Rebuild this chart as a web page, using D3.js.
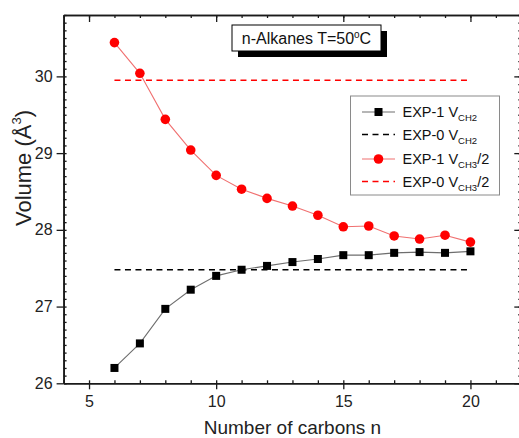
<!DOCTYPE html>
<html>
<head>
<meta charset="utf-8">
<script src="https://cdn.jsdelivr.net/npm/d3@7/dist/d3.min.js"></script>
<style>
  html, body { margin: 0; padding: 0; background: #fff; }
  svg { display: block; font-family: "Liberation Sans", Arial, sans-serif; }
</style>
</head>
<body>
<svg id="chart" width="519" height="438"></svg>
<script>
// Carbon number of each n-alkane
const carbons = [6, 7, 8, 9, 10, 11, 12, 13, 14, 15, 16, 17, 18, 19, 20];
// EXP-1 volume per CH2 group (Å^3)
const vCH2Exp1 = [26.20, 26.52, 26.97, 27.22, 27.40, 27.48, 27.53, 27.58, 27.62, 27.67, 27.67, 27.70, 27.71, 27.70, 27.72];
// EXP-1 half volume of the CH3 group (Å^3)
const vCH3Exp1 = [30.44, 30.04, 29.44, 29.04, 28.71, 28.53, 28.41, 28.31, 28.19, 28.04, 28.05, 27.92, 27.88, 27.93, 27.84];
// EXP-0 constant reference values (Å^3)
const vCH2Exp0 = 27.48;
const vCH3Exp0 = 29.95;
const refRange = [6, 20];
// Axis ticks
const xTicks = [5, 10, 15, 20];
const yTicks = [26, 27, 28, 29, 30];

const svg = d3.select("#chart");

const x = d3.scaleLinear().domain([4, 22]).range([63.6, 521.3]);
const y = d3.scaleLinear().domain([26, 30.8]).range([383.3, 15]);

const xMinor = d3.range(4, 22.01, 1);
const yMinor = d3.range(26, 30.801, 0.1).map(v => +v.toFixed(1));

const axisColor = "#1a1a1a";

function styleAxis(g) {
  g.select(".domain").attr("stroke", axisColor).attr("stroke-width", 1.6);
  g.selectAll(".tick line").attr("stroke", axisColor).attr("stroke-width", 1.3);
  g.selectAll(".tick text").attr("fill", "#222").attr("font-size", 16)
    .attr("font-family", "Liberation Sans, Arial, sans-serif");
}

// Bottom axis: majors outward, minors inward
svg.append("g").attr("transform", `translate(0,${y(26)})`)
  .call(d3.axisBottom(x).tickValues(xMinor).tickSize(-3).tickSizeOuter(0).tickFormat(""))
  .call(styleAxis);
svg.append("g").attr("transform", `translate(0,${y(26)})`)
  .call(d3.axisBottom(x).tickValues(xTicks).tickSize(6).tickSizeOuter(0).tickPadding(6).tickFormat(d3.format("d")))
  .call(styleAxis);

// Left axis
svg.append("g").attr("transform", `translate(${x(4)},0)`)
  .call(d3.axisLeft(y).tickValues(yMinor).tickSize(-3).tickSizeOuter(0).tickFormat(""))
  .call(styleAxis);
svg.append("g").attr("transform", `translate(${x(4)},0)`)
  .call(d3.axisLeft(y).tickValues(yTicks).tickSize(7).tickSizeOuter(0).tickPadding(4).tickFormat(d3.format("d")))
  .call(styleAxis);

// Top mirror axis, ticks inward
svg.append("g").attr("transform", `translate(0,${y(30.8)})`)
  .call(d3.axisTop(x).tickValues(xMinor).tickSize(-3).tickSizeOuter(0).tickFormat(""))
  .call(styleAxis);
svg.append("g").attr("transform", `translate(0,${y(30.8)})`)
  .call(d3.axisTop(x).tickValues(xTicks).tickSize(-7).tickSizeOuter(0).tickFormat(""))
  .call(styleAxis);

// Right mirror axis, ticks inward
svg.append("g").attr("transform", `translate(${x(22)},0)`)
  .call(d3.axisRight(y).tickValues(yMinor).tickSize(-3).tickSizeOuter(0).tickFormat(""))
  .call(styleAxis);
svg.append("g").attr("transform", `translate(${x(22)},0)`)
  .call(d3.axisRight(y).tickValues(yTicks).tickSize(-7).tickSizeOuter(0).tickFormat(""))
  .call(styleAxis);

// Axis titles
svg.append("text")
  .attr("x", (x(4) + x(22)) / 2).attr("y", 434)
  .attr("text-anchor", "middle").attr("font-size", 19).attr("fill", "#222")
  .text("Number of carbons n");

const yTitle = svg.append("text")
  .attr("transform", "translate(31,168) rotate(-90)")
  .attr("text-anchor", "middle").attr("font-size", 22).attr("fill", "#222");
yTitle.append("tspan").text("Volume (Å");
yTitle.append("tspan").attr("font-size", 13).attr("dy", -10).text("3");
yTitle.append("tspan").attr("dy", 10).text(")");

// Reference dashed lines
const refData = [
  { value: vCH2Exp0, color: "#000000" },
  { value: vCH3Exp0, color: "#ff0000" }
];
refData.forEach(r => {
  svg.append("line")
    .attr("x1", x(refRange[0])).attr("x2", x(refRange[1]))
    .attr("y1", y(r.value)).attr("y2", y(r.value))
    .attr("stroke", r.color).attr("stroke-width", 1.6)
    .attr("stroke-dasharray", "6,4.5");
});

const pts = (vals) => carbons.map((c, i) => [c, vals[i]]);
const line = d3.line().x(d => x(d[0])).y(d => y(d[1]));

// EXP-1 CH2 series
svg.append("path").datum(pts(vCH2Exp1)).attr("d", line)
  .attr("fill", "none").attr("stroke", "#6e6e6e").attr("stroke-width", 1.1);
svg.selectAll(".sq").data(pts(vCH2Exp1)).enter().append("rect")
  .attr("x", d => x(d[0]) - 4).attr("y", d => y(d[1]) - 4)
  .attr("width", 8).attr("height", 8).attr("fill", "#000");

// EXP-1 CH3/2 series
svg.append("path").datum(pts(vCH3Exp1)).attr("d", line)
  .attr("fill", "none").attr("stroke", "#f07070").attr("stroke-width", 1.1);
svg.selectAll(".ci").data(pts(vCH3Exp1)).enter().append("circle")
  .attr("cx", d => x(d[0])).attr("cy", d => y(d[1])).attr("r", 4.8)
  .attr("fill", "#ff0000");

// Title box with drop shadow
const tb = { x: 232, y: 25, w: 149, h: 26 };
svg.append("rect").attr("x", tb.x + 6).attr("y", tb.y + 6).attr("width", tb.w).attr("height", tb.h).attr("fill", "#000");
svg.append("rect").attr("x", tb.x).attr("y", tb.y).attr("width", tb.w).attr("height", tb.h)
  .attr("fill", "#fff").attr("stroke", "#000").attr("stroke-width", 1);
const title = svg.append("text").attr("x", tb.x + tb.w / 2).attr("y", tb.y + 19)
  .attr("text-anchor", "middle").attr("font-size", 16).attr("fill", "#111");
title.append("tspan").text("n-Alkanes T=50");
title.append("tspan").attr("font-size", 10).attr("dy", -6).text("o");
title.append("tspan").attr("dy", 6).text("C");

// Legend
const lg = { x: 350.5, y: 96, w: 149, h: 99 };
svg.append("rect").attr("x", lg.x).attr("y", lg.y).attr("width", lg.w).attr("height", lg.h)
  .attr("fill", "#fff").attr("stroke", "#8a8a8a").attr("stroke-width", 1);

const legendItems = [
  { label: "EXP-1 V", sub: "CH2", tail: "", color: "#6e6e6e", marker: "square", dash: null, yc: 112 },
  { label: "EXP-0 V", sub: "CH2", tail: "", color: "#000000", marker: null, dash: "6,4.5", yc: 134.5 },
  { label: "EXP-1 V", sub: "CH3", tail: "/2", color: "#f07070", marker: "circle", dash: null, yc: 159 },
  { label: "EXP-0 V", sub: "CH3", tail: "/2", color: "#ff0000", marker: null, dash: "6,4.5", yc: 181.5 }
];
const sx0 = 362, sx1 = 395;
legendItems.forEach(it => {
  svg.append("line").attr("x1", sx0).attr("x2", sx1).attr("y1", it.yc).attr("y2", it.yc)
    .attr("stroke", it.color).attr("stroke-width", it.dash ? 1.6 : 1.1)
    .attr("stroke-dasharray", it.dash);
  const mx = (sx0 + sx1) / 2;
  if (it.marker === "square") {
    svg.append("rect").attr("x", mx - 4).attr("y", it.yc - 4).attr("width", 8).attr("height", 8).attr("fill", "#000");
  } else if (it.marker === "circle") {
    svg.append("circle").attr("cx", mx).attr("cy", it.yc).attr("r", 4.8).attr("fill", "#ff0000");
  }
  const t = svg.append("text").attr("x", 402.5).attr("y", it.yc + 5)
    .attr("font-size", 14.5).attr("fill", "#111");
  t.append("tspan").text(it.label);
  t.append("tspan").attr("font-size", 9.5).attr("dy", 4).text(it.sub);
  if (it.tail) t.append("tspan").attr("dy", -4).text(it.tail);
});
</script>
</body>
</html>
